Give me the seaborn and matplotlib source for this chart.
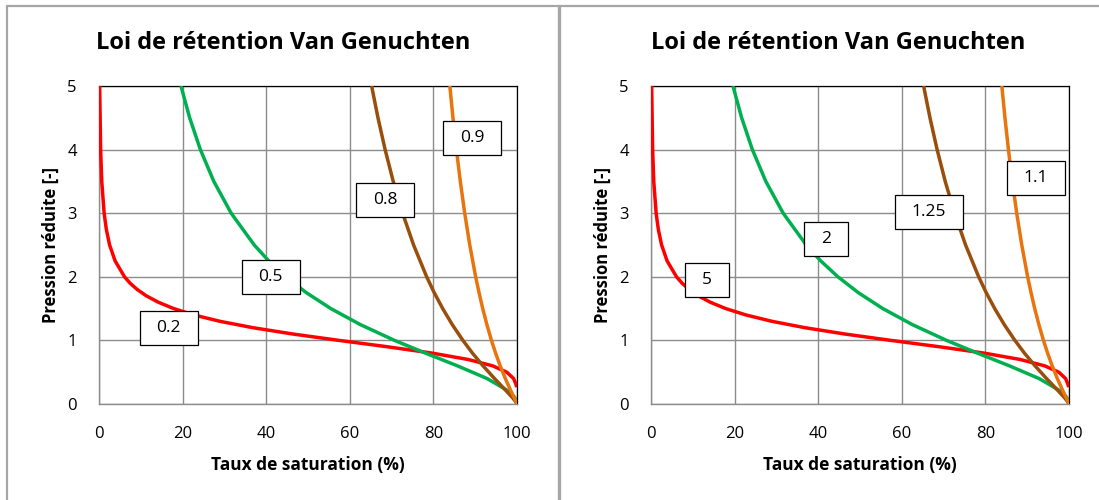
import matplotlib
matplotlib.use("Agg")
import matplotlib.pyplot as plt
from matplotlib.lines import Line2D
from matplotlib.patches import Rectangle
import seaborn as sns
import pandas as pd

# Reduced pressure [-] and saturation [%] points for each retention curve
P_RED = [5, 4, 3.5, 3, 2.75, 2.5, 2.25, 2, 1.9, 1.8, 1.7, 1.6, 1.5, 1.4, 1.3, 1.2, 1.1,
         1.0, 0.9, 0.8, 0.7, 0.6, 0.5, 0.4, 0.3, 0.263]
S_RED = [0.16, 0.39, 0.66, 1.23, 1.74, 2.54, 3.85, 6.10, 7.43, 9.15, 11.34, 14.19, 17.89,
         22.71, 28.94, 36.81, 46.41, 57.43, 68.99, 79.71, 88.31, 94.18, 97.57, 99.19,
         99.81, 99.90]

P_GREEN = [5, 4.5, 4, 3.5, 3, 2.5, 2.25, 2, 1.75, 1.5, 1.25, 1, 0.8, 0.6, 0.4, 0.2, 0.1, 0.045]
S_GREEN = [19.61, 21.69, 24.25, 27.47, 31.62, 37.14, 40.61, 44.72, 49.61, 55.47, 62.47,
           70.71, 78.09, 85.75, 92.85, 98.06, 99.50, 99.90]

P_BROWN = [5, 4.5, 4, 3.5, 3, 2.5, 2, 1.75, 1.5, 1.25, 1, 0.8, 0.6, 0.4, 0.2, 0.1, 0.05, 0.0145]
S_BROWN = [65.22, 66.74, 68.45, 70.39, 72.63, 75.26, 78.39, 80.20, 82.23, 84.50, 87.06,
           89.34, 91.87, 94.63, 97.52, 98.91, 99.53, 99.90]

P_ORANGE = [5, 4.5, 4, 3.5, 3, 2.5, 2, 1.75, 1.5, 1.25, 1, 0.8, 0.6, 0.4, 0.2, 0.1, 0.0165]
S_ORANGE = [83.93, 84.68, 85.51, 86.44, 87.49, 88.70, 90.11, 90.92, 91.80, 92.79, 93.89,
            94.88, 95.98, 97.21, 98.58, 99.31, 99.90]

CURVES = [
    ("red", S_RED, P_RED, "#FF0000"),
    ("green", S_GREEN, P_GREEN, "#00B050"),
    ("brown", S_BROWN, P_BROWN, "#9A4E0C"),
    ("orange", S_ORANGE, P_ORANGE, "#E8740E"),
]

# Curve labels: 1/n on the left chart, n on the right chart
LABELS_LEFT = ["0.2", "0.5", "0.8", "0.9"]
LABELS_RIGHT = ["5", "2", "1.25", "1.1"]
LABEL_POS_LEFT = [(16.7, 1.19), (41.1, 1.99), (68.4, 3.21), (89.2, 4.18)]
LABEL_POS_RIGHT = [(13.4, 1.95), (41.9, 2.59), (66.5, 3.02), (92.1, 3.55)]

TITLE = "Loi de rétention Van Genuchten"
XLABEL = "Taux de saturation (%)"
YLABEL = "Pression réduite [-]"
X_TICKS = [0, 20, 40, 60, 80, 100]
Y_TICKS = [0, 1, 2, 3, 4, 5]

sns.set_theme(style="white")
plt.rcParams["font.family"] = ["Open Sans", "DejaVu Sans"]

W, H = 1099, 500
fig = plt.figure(figsize=(W / 100, H / 100), dpi=100)
fig.patch.set_facecolor("white")

GRID = "#8c8c8c"
label_texts = []


def draw_panel(rect, labels, positions, title_x):
    ax = fig.add_axes(rect)
    for (name, s, p, color) in CURVES:
        df = pd.DataFrame({"S": s, "P": p})
        sns.lineplot(data=df, x="S", y="P", ax=ax, color=color, lw=2.5,
                     sort=False, estimator=None, legend=False, zorder=3,
                     solid_capstyle="butt")
    ax.set_xlim(0, 100)
    ax.set_ylim(0, 5)
    ax.set_xticks(X_TICKS)
    ax.set_yticks(Y_TICKS)
    ax.grid(True, color=GRID, lw=1.0)
    ax.set_axisbelow(True)
    for side in ("top", "right"):
        ax.spines[side].set_color("black")
        ax.spines[side].set_linewidth(0.9)
        ax.spines[side].set_visible(True)
    for side in ("left", "bottom"):
        ax.spines[side].set_color(GRID)
        ax.spines[side].set_linewidth(1.0)
        ax.spines[side].set_visible(True)
    ax.tick_params(axis="both", direction="out", length=4, width=1.0, color=GRID,
                   labelsize=12, labelcolor="black")
    ax.tick_params(axis="x", pad=12)
    ax.tick_params(axis="y", pad=12)
    ax.set_xlabel(XLABEL, fontsize=12.5, fontweight="bold", color="black", labelpad=10)
    ax.set_ylabel(YLABEL, fontsize=12, fontweight="bold", color="black", labelpad=5)
    for text, (x, y) in zip(labels, positions):
        t = ax.text(x, y, text, ha="center", va="center", fontsize=12.5, color="black",
                    zorder=6)
        label_texts.append((ax, t))
    fig.text(title_x, 1 - 43 / H, TITLE, ha="center", va="center",
             fontsize=17, fontweight="bold", color="black")
    return ax


draw_panel([99 / W, 1 - 404 / H, 418 / W, 318 / H], LABELS_LEFT, LABEL_POS_LEFT, 283 / W)
draw_panel([651 / W, 1 - 404 / H, 418 / W, 318 / H], LABELS_RIGHT, LABEL_POS_RIGHT, 838 / W)

# White boxes with a black border around the curve labels
fig.canvas.draw()
renderer = fig.canvas.get_renderer()
PAD_X, BOX_H = 17, 34
for ax, t in label_texts:
    bb = t.get_window_extent(renderer)
    cx, cy = (bb.x0 + bb.x1) / 2, (bb.y0 + bb.y1) / 2
    w = bb.width + 2 * PAD_X
    rect = Rectangle(((cx - w / 2) / W, (cy - BOX_H / 2) / H), w / W, BOX_H / H,
                     transform=fig.transFigure, facecolor="white", edgecolor="black",
                     lw=0.9, zorder=5)
    ax.add_artist(rect)
    rect.set_clip_on(False)

# Chart frames
FRAME = "#a6a6a6"
fig.add_artist(Line2D([7 / W, 7 / W], [0, 1 - 6 / H], color=FRAME, lw=1.6))
fig.add_artist(Line2D([7 / W, 1], [1 - 6 / H, 1 - 6 / H], color=FRAME, lw=1.6))
fig.add_artist(Line2D([559 / W, 559 / W], [0, 1 - 6 / H], color=FRAME, lw=2.4))

fig.savefig("out.png", dpi=100, facecolor="white")
